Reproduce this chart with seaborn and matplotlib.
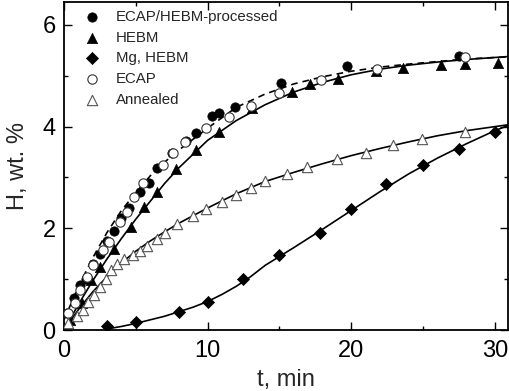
import numpy as np
import pandas as pd
import matplotlib
matplotlib.use("Agg")
import matplotlib.pyplot as plt
from matplotlib.ticker import MultipleLocator
import seaborn as sns

# measured points (t in min, H in wt.%)
ecap_hebm_t = [0.2, 0.7, 1.1, 1.5, 2.0, 2.5, 3.0, 3.5, 4.0, 4.5, 5.3, 5.9, 6.5, 7.5, 8.5, 9.2, 10.3, 10.8, 11.9, 15.1, 19.7, 27.5]
ecap_hebm_h = [0.33, 0.63, 0.88, 1.0, 1.3, 1.5, 1.75, 1.95, 2.2, 2.4, 2.72, 2.89, 3.19, 3.48, 3.71, 3.88, 4.21, 4.27, 4.39, 4.86, 5.2, 5.39]

hebm_t = [0.4, 1.25, 1.9, 2.5, 3.5, 4.7, 5.6, 6.45, 7.8, 9.2, 10.8, 13.1, 15.9, 17.1, 19.1, 21.7, 23.6, 26.25, 27.9, 30.2]
hebm_h = [0.2, 0.53, 0.98, 1.24, 1.6, 2.03, 2.42, 2.72, 3.17, 3.55, 3.9, 4.37, 4.69, 4.84, 4.94, 5.10, 5.16, 5.22, 5.24, 5.26]

mg_t = [3, 5, 8, 10, 12.5, 15, 17.8, 20, 22.4, 25, 27.5, 30]
mg_h = [0.08, 0.16, 0.35, 0.55, 1.0, 1.48, 1.91, 2.38, 2.87, 3.25, 3.56, 3.90]

ecap_t = [0.3, 0.8, 1.1, 1.6, 2.0, 2.7, 3.1, 3.9, 4.4, 4.9, 5.5, 6.9, 7.6, 8.4, 9.9, 11.5, 13.0, 15.0, 17.9, 21.8, 27.9]
ecap_h = [0.33, 0.53, 0.79, 1.05, 1.28, 1.57, 1.73, 2.13, 2.32, 2.62, 2.89, 3.25, 3.48, 3.70, 3.98, 4.19, 4.41, 4.67, 4.92, 5.14, 5.37]

annealed_t = [0.3, 0.9, 1.3, 1.7, 2.1, 2.5, 2.9, 3.3, 3.7, 4.2, 4.8, 5.3, 5.8, 6.5, 7.0, 7.9, 9.0, 9.9, 11.0, 12.0, 13.0, 14.0, 15.5, 16.9, 19.0, 21.0, 22.9, 24.9, 27.9]
annealed_h = [0.14, 0.27, 0.4, 0.55, 0.69, 0.85, 1.0, 1.18, 1.3, 1.4, 1.48, 1.55, 1.66, 1.79, 1.91, 2.09, 2.24, 2.38, 2.52, 2.66, 2.80, 2.93, 3.07, 3.21, 3.37, 3.48, 3.64, 3.76, 3.90]

# fitted curves
fit_t = [0, 1, 2, 3, 4, 5, 6, 7, 8, 10, 12, 14, 16, 18, 20, 22, 24, 26, 28, 30, 31]
fit_ecap_hebm = [0.2, 0.85, 1.42, 1.92, 2.35, 2.7, 3.03, 3.3, 3.54, 3.97, 4.38, 4.64, 4.84, 4.98, 5.09, 5.17, 5.23, 5.28, 5.33, 5.36, 5.37]
fit_hebm = [0.0, 0.5, 0.97, 1.4, 1.8, 2.18, 2.53, 2.88, 3.19, 3.73, 4.12, 4.43, 4.68, 4.87, 5.02, 5.13, 5.21, 5.27, 5.32, 5.36, 5.38]
fit_annealed = [0.0, 0.4, 0.75, 1.05, 1.32, 1.55, 1.75, 1.93, 2.1, 2.4, 2.68, 2.92, 3.1, 3.27, 3.43, 3.57, 3.7, 3.82, 3.92, 4.0, 4.04]
mg_fit_t = [3, 4, 5, 6, 7, 8, 9, 10, 11, 12, 13, 14, 16, 18, 20, 22, 24, 26, 28, 30, 31]
fit_mg = [0.02, 0.07, 0.13, 0.2, 0.27, 0.36, 0.45, 0.56, 0.7, 0.86, 1.05, 1.27, 1.62, 1.98, 2.35, 2.72, 3.07, 3.38, 3.66, 3.92, 4.03]

sns.set_style("ticks")
plt.rcParams['font.family'] = ['Liberation Sans', 'DejaVu Sans']

fig = plt.figure(figsize=(5.1, 3.91), dpi=100)
ax = fig.add_axes([0.1255, 0.156, 0.87, 0.84])

# curves
sns.lineplot(x=fit_t, y=fit_ecap_hebm, color='black', lw=1.2, linestyle=(0, (4, 3)), ax=ax, zorder=2)
sns.lineplot(x=fit_t, y=fit_hebm, color='black', lw=1.2, ax=ax, zorder=2)
sns.lineplot(x=fit_t, y=fit_annealed, color='black', lw=1.2, ax=ax, zorder=2)
sns.lineplot(x=mg_fit_t, y=fit_mg, color='black', lw=1.2, ax=ax, zorder=2)

# points
sns.scatterplot(x=ecap_hebm_t, y=ecap_hebm_h, marker='o', s=45, color='black',
                edgecolor='black', linewidth=0.5, label='ECAP/HEBM-processed', ax=ax, zorder=3)
sns.scatterplot(x=hebm_t, y=hebm_h, marker='^', s=55, color='black',
                edgecolor='black', linewidth=0.5, label='HEBM', ax=ax, zorder=3)
sns.scatterplot(x=mg_t, y=mg_h, marker='D', s=38, color='black',
                edgecolor='black', linewidth=0.5, label='Mg, HEBM', ax=ax, zorder=3)
sns.scatterplot(x=ecap_t, y=ecap_h, marker='o', s=45, color='white',
                edgecolor='#333333', linewidth=0.8, label='ECAP', ax=ax, zorder=3)
sns.scatterplot(x=annealed_t, y=annealed_h, marker='^', s=55, color='white',
                edgecolor='#555555', linewidth=0.8, label='Annealed', ax=ax, zorder=3)

ax.set_xlim(0, 30.9)
ax.set_ylim(0, 6.46)
ax.set_xticks([0, 10, 20, 30])
ax.set_yticks([0, 2, 4, 6])
ax.xaxis.set_minor_locator(MultipleLocator(5))
ax.yaxis.set_minor_locator(MultipleLocator(1))
ax.tick_params(which='both', direction='in', top=True, right=True, width=1, labelsize=17, colors='black')
ax.tick_params(which='major', length=6)
ax.tick_params(which='minor', length=3)
ax.tick_params(axis='x', pad=7)
ax.tick_params(axis='y', pad=6)
for sp in ax.spines.values():
    sp.set_linewidth(1.3)
    sp.set_color('black')

ax.set_xlabel('t, min', fontsize=17, labelpad=5)
ax.set_ylabel('H, wt. %', fontsize=17)
ax.yaxis.set_label_coords(-0.08, 0.5)

ax.legend(loc='upper left', bbox_to_anchor=(0.043, 0.974), frameon=False, fontsize=10.8,
          handlelength=1.2, handletextpad=1.0, labelspacing=0.44, borderpad=0, borderaxespad=0)

fig.savefig('out.png', dpi=100)
